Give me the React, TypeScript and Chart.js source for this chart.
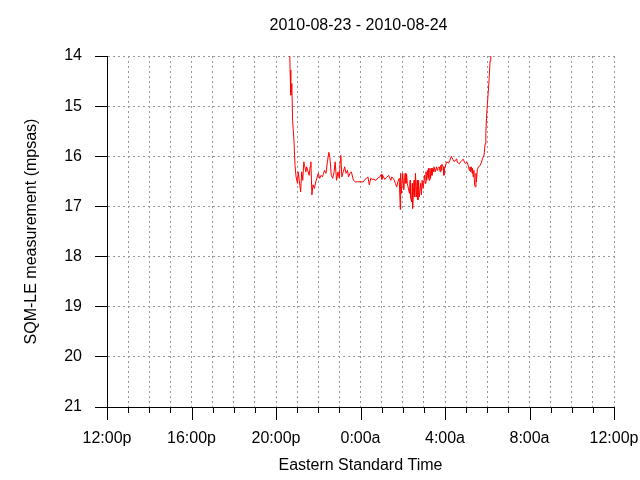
import React, { useEffect, useRef } from 'react';
import { Chart, registerables } from 'chart.js';

Chart.register(...registerables);

const chartTitle = '2010-08-23 - 2010-08-24';
const xAxisTitle = 'Eastern Standard Time';
const yAxisTitle = 'SQM-LE measurement (mpsas)';
const xTickLabels = ['12:00p', '16:00p', '20:00p', '0:00a', '4:00a', '8:00a', '12:00p'];
const yMin = 14;
const yMax = 21;

const readingTimes = [
  '20:38', '20:40', '20:42', '20:45', '20:47', '20:51', '20:54', '20:57', '21:01', '21:03',
  '21:06', '21:10', '21:13', '21:16', '21:19', '21:21', '21:25', '21:27', '21:30', '21:34',
  '21:37', '21:39', '21:42', '21:45', '21:49', '21:53', '21:56', '22:00', '22:04', '22:08',
  '22:12', '22:15', '22:18', '22:22', '22:26', '22:30', '22:33', '22:37', '22:41', '22:45',
  '22:48', '22:52', '22:56', '23:00', '23:02', '23:04', '23:07', '23:11', '23:15', '23:19',
  '23:23', '23:26', '23:30', '23:34', '23:40', '23:45', '23:51', '00:08', '00:13', '00:17',
  '00:21', '00:25', '00:29', '00:33', '00:38', '00:44', '00:50', '00:55', '00:59', '01:01',
  '01:03', '01:09', '01:14', '01:20', '01:26', '01:29', '01:35', '01:39', '01:43', '01:46',
  '01:50', '01:53', '01:54', '01:56', '02:00', '02:03', '02:05', '02:07', '02:09', '02:11',
  '02:13', '02:15', '02:19', '02:21', '02:22', '02:25', '02:27', '02:28', '02:32', '02:34',
  '02:36', '02:39', '02:41', '02:43', '02:45', '02:47', '02:51', '02:53', '02:55', '02:58',
  '03:02', '03:04', '03:06', '03:08', '03:10', '03:12', '03:13', '03:15', '03:17', '03:19',
  '03:21', '03:23', '03:25', '03:27', '03:29', '03:32', '03:36', '03:38', '03:40', '03:44',
  '03:46', '03:48', '03:50', '03:51', '03:55', '03:57', '03:59', '04:03', '04:06', '04:10',
  '04:14', '04:18', '04:22', '04:25', '04:29', '04:33', '04:35', '04:37', '04:41', '04:44',
  '04:48', '04:52', '04:56', '04:59', '05:03', '05:07', '05:09', '05:11', '05:13', '05:15',
  '05:17', '05:18', '05:20', '05:22', '05:24', '05:26', '05:28', '05:29', '05:32', '05:35',
  '05:39', '05:43', '05:47', '05:51', '05:54', '05:56', '05:58', '06:02', '06:05', '06:08',
  '06:10',
];

const readingValues = [
  13.5, 14.28, 14.78, 14.55, 15.28, 15.68, 16.18, 16.41, 16.54, 16.31,
  16.48, 16.71, 16.31, 16.48, 16.11, 16.18, 16.31, 16.21, 16.28, 16.38,
  16.21, 16.11, 16.77, 16.57, 16.64, 16.51, 16.44, 16.34, 16.44, 16.38,
  16.41, 16.34, 16.28, 16.34, 16.11, 15.92, 16.02, 16.38, 16.44, 16.31,
  16.11, 16.48, 16.31, 16.44, 16.11, 15.98, 16.41, 16.31, 16.21, 16.34,
  16.28, 16.41, 16.34, 16.31, 16.48, 16.51, 16.51, 16.51, 16.46, 16.44,
  16.41, 16.57, 16.44, 16.46, 16.46, 16.48, 16.43, 16.41, 16.36, 16.46,
  16.38, 16.46, 16.42, 16.38, 16.48, 16.41, 16.46, 16.54, 16.61, 16.51,
  16.44, 17.06, 16.34, 16.74, 16.34, 16.67, 16.48, 16.34, 16.54, 16.36,
  16.54, 16.61, 16.74, 16.48, 16.81, 16.91, 16.54, 17.04, 16.48, 16.81,
  16.34, 16.81, 16.48, 16.87, 16.48, 16.81, 16.54, 16.77, 16.48, 16.64,
  16.38, 16.54, 16.31, 16.48, 16.28, 16.44, 16.24, 16.48, 16.24, 16.44,
  16.24, 16.38, 16.24, 16.31, 16.21, 16.31, 16.21, 16.28, 16.24, 16.21,
  16.31, 16.18, 16.28, 16.16, 16.21, 16.38, 16.24, 16.15, 16.11, 16.14,
  16.08, 16.0, 16.06, 16.1, 16.09, 16.05, 16.12, 16.13, 16.15, 16.11,
  16.08, 16.06, 16.13, 16.14, 16.12, 16.21, 16.28, 16.21, 16.31, 16.21,
  16.34, 16.24, 16.41, 16.28, 16.57, 16.61, 16.34, 16.51, 16.26, 16.21,
  16.19, 16.13, 16.04, 15.97, 15.75, 15.55, 15.2, 14.8, 14.5, 14.1,
  13.5,
];

const FONT = 'Liberation Sans, Arial, sans-serif';

function hoursFromNoon(t: string): number {
  const [hh, mm] = t.split(':').map(Number);
  const h = hh + mm / 60;
  return h >= 12 ? h - 12 : h + 12;
}

const xTickMarks = {
  id: 'xTickMarks',
  afterDraw(chart: any) {
    const xs = chart.scales.x;
    const ctx = chart.ctx;
    const y0 = chart.chartArea.bottom;
    ctx.save();
    ctx.strokeStyle = '#000';
    ctx.lineWidth = 1;
    ctx.beginPath();
    xs.ticks.forEach((t: any) => {
      const px = Math.round(xs.getPixelForValue(t.value)) + 0.5;
      const len = t.value % 4 === 0 ? 13 : 6;
      ctx.moveTo(px, y0);
      ctx.lineTo(px, y0 + len);
    });
    ctx.stroke();
    ctx.restore();
  },
};

const centeredTitle = {
  id: 'centeredTitle',
  afterDraw(chart: any) {
    const ctx = chart.ctx;
    const { left, right } = chart.chartArea;
    ctx.save();
    ctx.fillStyle = '#000';
    ctx.font = `16px ${FONT}`;
    ctx.textAlign = 'center';
    ctx.textBaseline = 'middle';
    ctx.fillText(chartTitle, (left + right) / 2 - 2, 26);
    ctx.restore();
  },
};

export default function App() {
  const ref = useRef<HTMLCanvasElement | null>(null);
  useEffect(() => {
    if (!ref.current) return;
    const data = readingTimes.map((t, i) => ({ x: hoursFromNoon(t), y: readingValues[i] }));
    const chart = new Chart(ref.current, {
      type: 'line',
      data: {
        datasets: [
          {
            data,
            borderColor: '#ff0000',
            borderWidth: 1,
            pointRadius: 0,
            tension: 0,
            fill: false,
          },
        ],
      },
      plugins: [xTickMarks, centeredTitle],
      options: {
        animation: false,
        responsive: false,
        devicePixelRatio: 1,
        layout: { padding: { left: 0, right: 26, top: 56, bottom: 0 } },
        plugins: {
          legend: { display: false },
          tooltip: { enabled: false },
          title: { display: false },
        },
        scales: {
          x: {
            type: 'linear',
            min: 0,
            max: 24,
            afterFit: (s: any) => {
              s.height = 73;
              s.paddingLeft = 0;
              s.paddingRight = 0;
            },
            ticks: {
              stepSize: 1,
              autoSkip: false,
              maxRotation: 0,
              color: '#000',
              padding: 9,
              font: { family: FONT, size: 16 },
              callback: (v: any) => (Number(v) % 4 === 0 ? xTickLabels[Number(v) / 4] : ''),
            },
            grid: {
              color: '#999',
              lineWidth: 1,
              tickLength: 13,
              tickColor: 'rgba(0,0,0,0)',
            },
            border: { display: true, color: '#000', width: 1, dash: [2, 3] },
            title: {
              display: true,
              text: xAxisTitle,
              color: '#000',
              font: { family: FONT, size: 16 },
              padding: { top: 0, bottom: 4.5 },
            },
          },
          y: {
            type: 'linear',
            min: yMin,
            max: yMax,
            reverse: true,
            afterFit: (s: any) => { s.width = 107; },
            ticks: {
              stepSize: 1,
              color: '#000',
              padding: 13,
              font: { family: FONT, size: 16 },
            },
            grid: {
              color: '#999',
              lineWidth: 1,
              tickLength: 12,
              tickColor: '#000',
            },
            border: { display: true, color: '#000', width: 1, dash: [2, 3] },
            title: {
              display: true,
              text: yAxisTitle,
              color: '#000',
              font: { family: FONT, size: 16 },
              padding: { top: 22, bottom: 0 },
            },
          },
        },
      },
    } as any);
    return () => chart.destroy();
  }, []);
  return (
    <div style={{ position: 'absolute', left: 0, top: 0, width: 640, height: 480, background: '#fff' }}>
      <canvas ref={ref} width={640} height={480} style={{ display: 'block' }} />
    </div>
  );
}
